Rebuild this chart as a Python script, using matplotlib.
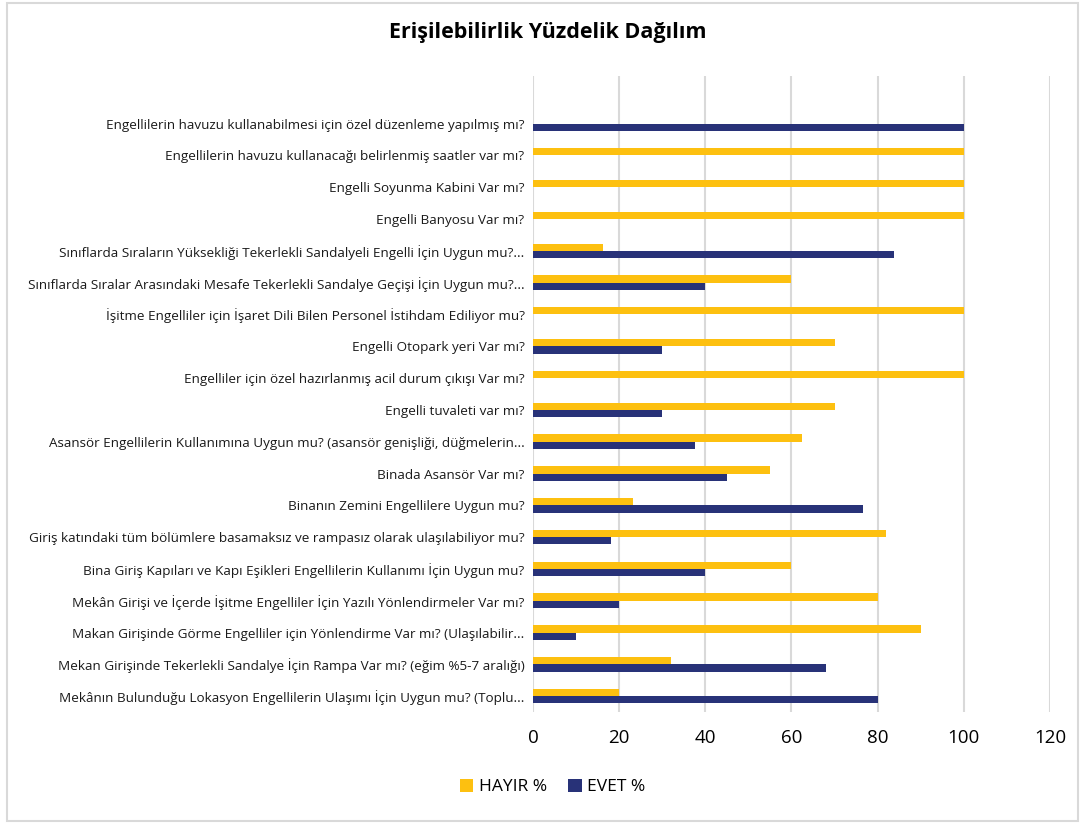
import numpy as np
import matplotlib.pyplot as plt
from matplotlib.patches import Rectangle

plt.rcParams["font.family"] = ["Open Sans", "DejaVu Sans"]

sorular = [
    "Engellilerin havuzu kullanabilmesi için özel düzenleme yapılmış mı?",
    "Engellilerin havuzu kullanacağı belirlenmiş saatler var mı?",
    "Engelli Soyunma Kabini Var mı?",
    "Engelli Banyosu Var mı?",
    "Sınıflarda Sıraların Yüksekliği Tekerlekli Sandalyeli Engelli İçin Uygun mu?...",
    "Sınıflarda Sıralar Arasındaki Mesafe Tekerlekli Sandalye Geçişi İçin Uygun mu?...",
    "İşitme Engelliler için İşaret Dili Bilen Personel İstihdam Ediliyor mu?",
    "Engelli Otopark yeri Var mı?",
    "Engelliler için özel hazırlanmış acil durum çıkışı Var mı?",
    "Engelli tuvaleti var mı?",
    "Asansör Engellilerin Kullanımına Uygun mu? (asansör genişliği, düğmelerin...",
    "Binada Asansör Var mı?",
    "Binanın Zemini Engellilere Uygun mu?",
    "Giriş katındaki tüm bölümlere basamaksız ve rampasız olarak ulaşılabiliyor mu?",
    "Bina Giriş Kapıları ve Kapı Eşikleri Engellilerin Kullanımı İçin Uygun mu?",
    "Mekân Girişi ve İçerde İşitme Engelliler İçin Yazılı Yönlendirmeler Var mı?",
    "Makan Girişinde Görme Engelliler için Yönlendirme Var mı? (Ulaşılabilir...",
    "Mekan Girişinde Tekerlekli Sandalye İçin Rampa Var mı? (eğim %5-7 aralığı)",
    "Mekânın Bulunduğu Lokasyon Engellilerin Ulaşımı İçin Uygun mu? (Toplu...",
]

hayir = [0, 100, 100, 100, 16.2, 60, 100, 70, 100, 70,
         62.5, 55, 23.3, 82, 60, 80, 90, 32, 20]
evet = [100, 0, 0, 0, 83.8, 40, 0, 30, 0, 30,
        37.5, 45, 76.7, 18, 40, 20, 10, 68, 80]

sari = "#FDC010"
lacivert = "#283278"

fig = plt.figure(figsize=(10.85, 8.24), dpi=100)
ax = fig.add_axes([0.4912, 0.1359, 0.4765, 0.7719])

# ilk satir Excel'deki gibi bos kaliyor
y = np.arange(1, len(sorular) + 1)
h = 0.23
ax.barh(y - h / 2, hayir, height=h, color=sari, linewidth=0, label="HAYIR %", zorder=3)
ax.barh(y + h / 2, evet, height=h, color=lacivert, linewidth=0, label="EVET %", zorder=3)

ax.set_ylim(len(sorular) + 0.5, -0.5)
ax.set_xlim(0, 120)
ax.set_xticks(range(0, 121, 20))
ax.set_yticks(y)
ax.set_yticklabels(sorular, fontsize=9.7, color="#1a1a1a")
ax.tick_params(axis="y", length=0, pad=6)
ax.tick_params(axis="x", length=0, pad=12, labelsize=13.5)
ax.grid(axis="x", color="#D9D9D9", linewidth=1.5, zorder=0)
for s in ax.spines.values():
    s.set_visible(False)

fig.text(0.505, 0.961, "Erişilebilirlik Yüzdelik Dağılım", ha="center", va="center",
         fontsize=15.5, fontweight="bold")

fig.legend(loc="center", bbox_to_anchor=(0.509, 0.045), ncol=2, frameon=False,
           fontsize=12.5, handlelength=0.8, handleheight=0.8, handletextpad=0.3,
           columnspacing=1.2)

fig.patches.append(Rectangle((7 / 1085, 3 / 824), 1071 / 1085, 818 / 824,
                             transform=fig.transFigure, fill=False,
                             edgecolor="#D9D9D9", linewidth=1.5))

plt.savefig("out.png", dpi=100)
